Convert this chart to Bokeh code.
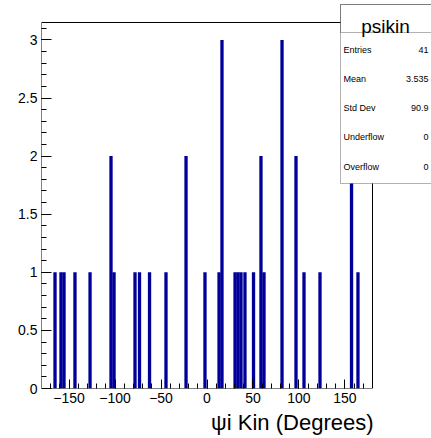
from bokeh.plotting import figure
from bokeh.models import (Range1d, FixedTicker, CustomJSTickFormatter, Title,
                          BoxAnnotation, Label)
from bokeh.embed import file_html
from bokeh.resources import INLINE

# ---- data ----
bin_width = 3.6
bin_centers = [-165.3, -158.8, -155.5, -143.6, -127.2, -104.4, -101.1, -78.3, -73.4,
               -62.5, -44.6, -22.8, -2.2, 13.1, 16.3, 30.5, 33.7, 37.0, 41.3,
               50.6, 58.7, 62.0, 81.6, 96.8, 105.5, 122.9, 157.2, 164.2]
counts = [1, 1, 1, 1, 1, 2, 1, 1, 1,
          1, 1, 2, 1, 1, 3, 1, 1, 1, 1,
          1, 2, 1, 3, 2, 1, 1, 2, 1]
x_ticks = [-150, -100, -50, 0, 50, 100, 150]
y_ticks = [0, 0.5, 1, 1.5, 2, 2.5, 3]
hist_name = "psikin"
stat_names = ["Entries", "Mean", "Std Dev", "Underflow", "Overflow"]
stat_values = ["41", "3.535", "90.9", "0", "0"]
x_title = "ψi Kin (Degrees)"

X0, X1 = -180.0, 180.0          # axis range
Y0, Y1 = 0.0, 3.15
FL, FR, FT, FB = 41, 372, 22, 388  # axis box in pixels
W, H = 431, 438
TOP = 3                          # top of the drawing area (stats box reaches up here)
FONT = "Liberation Sans"

def dx(px):
    return X0 + (px - FL) / (FR - FL) * (X1 - X0)

def dy(py):
    return Y0 + (FB - py) / (FB - FT) * (Y1 - Y0)

p = figure(width=W, height=H, output_backend="svg", toolbar_location=None,
           x_range=Range1d(X0, dx(W)), y_range=Range1d(Y0, dy(TOP)),
           min_border_left=FL, min_border_right=0,
           min_border_top=TOP, min_border_bottom=H - FB)
p.background_fill_color = "white"
p.border_fill_color = "white"
p.outline_line_color = None
p.xgrid.visible = False
p.ygrid.visible = False

p.vbar(x=bin_centers, width=bin_width, top=counts, bottom=0,
       fill_color="#000099", line_color=None)

# axis box lines
p.segment(x0=[X0, X0, X0, X1], y0=[Y0, Y0, Y1, Y0],
          x1=[X1, X0, X1, X1], y1=[Y0, Y1, Y1, Y1],
          line_color="black", line_width=1)

# axes
xa = p.xaxis[0]
xa.ticker = FixedTicker(ticks=x_ticks,
                        minor_ticks=[v for v in range(-170, 180, 10)])
xa.formatter = CustomJSTickFormatter(code="return tick < 0 ? '\u2212' + Math.abs(tick) : String(tick);")
xa.major_tick_in = 9
xa.major_tick_out = 0
xa.minor_tick_in = 5
xa.minor_tick_out = 0
xa.major_label_standoff = 4
xa.major_label_text_font = FONT
xa.major_label_text_font_size = "14px"
xa.major_label_text_color = "black"
xa.axis_line_color = None
xa.major_tick_line_color = "black"
xa.minor_tick_line_color = "black"

ya = p.yaxis[0]
ya.ticker = FixedTicker(ticks=y_ticks,
                        minor_ticks=[round(0.1 * i, 1) for i in range(1, 32)])
ya.major_tick_in = 10
ya.major_tick_out = 0
ya.minor_tick_in = 5
ya.minor_tick_out = 0
ya.major_label_standoff = 4
ya.major_label_text_font = FONT
ya.major_label_text_font_size = "14px"
ya.major_label_text_color = "black"
ya.axis_line_color = None
ya.major_tick_line_color = "black"
ya.minor_tick_line_color = "black"

t = Title(text=x_title, align="right", text_font=FONT, text_font_size="22px",
          text_font_style="normal", text_color="black", standoff=5,
          offset=(W - 373))
p.add_layout(t, "below")

# stats box
bx_l, bx_r, bx_t, bx_b, bx_sep = 340, 434, 4, 183, 32
p.add_layout(BoxAnnotation(left=dx(bx_l), right=dx(bx_r), top=dy(bx_t), bottom=dy(bx_b),
                           fill_color="white", fill_alpha=1.0,
                           line_color="black", line_width=1, level="overlay"))
p.add_layout(BoxAnnotation(left=dx(bx_l), right=dx(bx_r), top=dy(bx_t), bottom=dy(bx_sep),
                           fill_color="white", fill_alpha=0.0,
                           line_color="black", line_width=1, level="overlay"))
p.add_layout(Label(x=dx(385), y=dy(26), text=hist_name,
                   text_align="center", text_baseline="alphabetic",
                   text_font=FONT, text_font_size="19px", text_color="black",
                   level="overlay"))
for i, (n, v) in enumerate(zip(stat_names, stat_values)):
    yy = dy(49 + i * 29.25)
    p.add_layout(Label(x=dx(343), y=yy, text=n, text_align="left",
                       text_baseline="middle", text_font=FONT,
                       text_font_size="9px", text_color="black", level="overlay"))
    p.add_layout(Label(x=dx(428), y=yy, text=v, text_align="right",
                       text_baseline="middle", text_font=FONT,
                       text_font_size="9px", text_color="black", level="overlay"))

open("out.html", "w").write(file_html(p, INLINE))
